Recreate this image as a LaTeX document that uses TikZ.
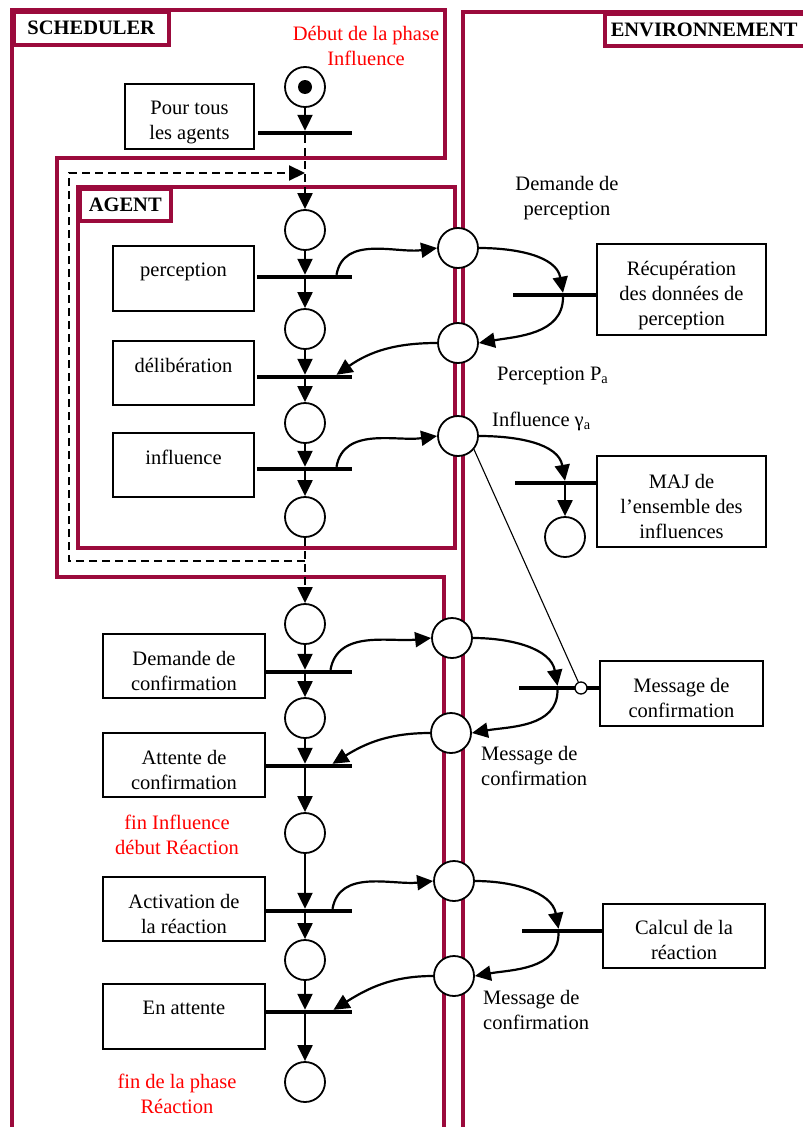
\documentclass[tikz,border=0pt]{standalone}
\usepackage{fontspec}
\setmainfont{Liberation Serif}
\usetikzlibrary{arrows.meta,calc}
\definecolor{maroon}{RGB}{155,10,60}
\definecolor{redtxt}{RGB}{255,0,0}
\newcommand{\fs}{\fontsize{20.5}{25}\selectfont}
\tikzset{myarrow/.tip={Triangle[length=16pt,width=15pt]}}
\begin{document}
\begin{tikzpicture}[x=1pt,y=-1pt,
  frame/.style={draw=maroon, line width=3.5pt},
  lbox/.style={draw=maroon, line width=3.5pt, fill=white, anchor=north west, inner sep=0, font=\fs\bfseries},
  place/.style={circle, draw, line width=1.8pt, fill=white, minimum size=40pt, inner sep=0},
  bar/.style={fill=black, minimum height=4pt, inner sep=0, draw=none, rectangle},
  box/.style={draw, line width=1.4pt, inner sep=0, rectangle},
  txt/.style={font=\fs, align=center, inner sep=0},
  redlbl/.style={txt, text=redtxt},
  arr/.style={-myarrow, line width=2.2pt},
  darr/.style={arr, dash pattern=on 8pt off 5pt},
  thinl/.style={line width=1.1pt}]
\useasboundingbox (0,0) rectangle (803,1127);
\fill[white] (0,0) rectangle (803,1127);

% frames
\draw[frame] (12,1140) -- (12,10) -- (445,10) -- (445,158) -- (57,158) -- (57,577) -- (444,577) -- (444,1140);
\draw[frame] (463,1140) -- (463,12) -- (820,12);
\draw[frame] (78,187) rectangle (455,548);
\node[lbox, minimum width=155pt, minimum height=33pt] (lsch) at (12,10) {SCHEDULER};
\node[lbox, minimum width=215pt, minimum height=32pt, text width=205pt, align=left] (lenv) at (603,12) {\hspace*{1pt}ENVIRONNEMENT};
\node[lbox, minimum width=91pt, minimum height=32pt] (lag) at (78,187) {AGENT};

% scheduler boxes
\node[box, minimum width=129pt, minimum height=65pt] (bpour) at (189.5,116.5) {};
\node[txt] (tpour) at ($(bpour.center)+(0,6)$) {Pour tous\\les agents};
\node[box, minimum width=141pt, minimum height=65pt] (bperc) at (183.5,278.5) {};
\node[txt] (tperc) at (183.5,272) {perception};
\node[box, minimum width=141pt, minimum height=64pt] (bdel) at (183.5,373) {};
\node[txt] (tdel) at (183.5,365) {délibération};
\node[box, minimum width=141pt, minimum height=64pt] (binf) at (183.5,465) {};
\node[txt] (tinf) at (183.5,457.5) {influence};
\node[box, minimum width=162pt, minimum height=64pt] (bdem) at (184,666) {};
\node[txt] (tdem) at ($(bdem.center)+(0,5)$) {Demande de\\confirmation};
\node[box, minimum width=162pt, minimum height=64pt] (batt) at (184,765) {};
\node[txt] (tatt) at ($(batt.center)+(0,5)$) {Attente de\\confirmation};
\node[box, minimum width=162pt, minimum height=64pt] (bact) at (184,909) {};
\node[txt] (tact) at ($(bact.center)+(0,5)$) {Activation de\\la réaction};
\node[box, minimum width=162pt, minimum height=65pt] (ben) at (184,1016.5) {};
\node[txt] (ten) at (184,1008) {En attente};

% environment boxes
\node[box, minimum width=169pt, minimum height=91pt] (brec) at (681.5,289.5) {};
\node[txt] (trec) at ($(brec.center)+(0,6)$) {Récupération\\des données de\\perception};
\node[box, minimum width=169pt, minimum height=91pt] (bmaj) at (681.5,501.5) {};
\node[txt] (tmaj) at ($(bmaj.center)+(0,5)$) {MAJ de\\l’ensemble des\\influences};
\node[box, minimum width=163pt, minimum height=65pt] (bmsg) at (681.5,693.5) {};
\node[txt] (tmsg) at ($(bmsg.center)+(0,4)$) {Message de\\confirmation};
\node[box, minimum width=162pt, minimum height=64pt] (bcal) at (684,936) {};
\node[txt] (tcal) at ($(bcal.center)+(0,4)$) {Calcul de la\\réaction};

% bars
\node[bar, minimum width=94pt] (t0) at (305,133) {};
\node[bar, minimum width=95pt] (t1) at (304.5,277) {};
\node[bar, minimum width=95pt] (t2) at (304.5,377) {};
\node[bar, minimum width=95pt] (t3) at (304.5,469) {};
\node[bar, minimum width=87pt] (t4) at (308.5,672) {};
\node[bar, minimum width=87pt] (t5) at (308.5,766) {};
\node[bar, minimum width=87pt] (t6) at (308.5,911) {};
\node[bar, minimum width=87pt] (t7) at (308.5,1012) {};
\node[bar, minimum width=84pt] (r1) at (555,295) {};
\node[bar, minimum width=82pt] (m1) at (556,483) {};
\node[bar, minimum width=81pt] (c1) at (559.5,688) {};
\node[bar, minimum width=81pt] (k1) at (562.5,931) {};

% places
\node[place] (s0) at (305,87) {};
\fill (s0.center) circle (7pt);
\node[place] (a1) at (305,230) {};
\node[place] (a2) at (305,329) {};
\node[place] (a3) at (305,423) {};
\node[place] (a4) at (305,517) {};
\node[place] (b1) at (305,624) {};
\node[place] (b2) at (305,718) {};
\node[place] (b3) at (305,833) {};
\node[place] (b4) at (305,960) {};
\node[place] (b5) at (305,1082) {};
\node[place] (e1) at (458,248) {};
\node[place] (e2) at (458,343) {};
\node[place] (e3) at (458,436) {};
\node[place] (mp) at (565,537) {};
\node[place] (e4) at (452,638) {};
\node[place] (e5) at (451,733) {};
\node[place] (e6) at (454,881) {};
\node[place] (e7) at (454,976) {};
\node[circle, draw, line width=1.3pt, fill=white, minimum size=12pt, inner sep=0] (mc) at (581,688) {};

% scheduler flow
\draw[arr] (s0) -- (s0 |- t0.north);
\draw[darr] (s0 |- t0.south) -- (a1);
\draw[arr] (a1) -- (a1 |- t1.north);
\draw[arr] (a1 |- t1.south) -- (a2);
\draw[arr] (a2) -- (a2 |- t2.north);
\draw[arr] (a2 |- t2.south) -- (a3);
\draw[arr] (a3) -- (a3 |- t3.north);
\draw[arr] (a3 |- t3.south) -- (a4);
\draw[darr] (a4) -- (b1);
\coordinate (loopA) at (305,561);
\coordinate (loopB) at (305,173);
\draw[darr] (loopA) -- (69,561) -- (69,173) -- (loopB);
\draw[arr] (b1) -- (b1 |- t4.north);
\draw[arr] (b1 |- t4.south) -- (b2);
\draw[arr] (b2) -- (b2 |- t5.north);
\draw[arr] (b2 |- t5.south) -- (b3);
\draw[arr] (b3) -- (b3 |- t6.north);
\draw[arr] (b3 |- t6.south) -- (b4);
\draw[arr] (b4) -- (b4 |- t7.north);
\draw[arr] (b4 |- t7.south) -- (b5);

% exchanges
\draw[arr] ([xshift=32pt]t1.north) to[out=80,in=188] (e1.west);
\draw[arr] (e1.east) to[out=0,in=100] ([xshift=8pt]r1.north);
\draw[arr] ([xshift=8pt]r1.south) to[out=-90,in=10] (e2.east);
\draw[arr] (e2.west) to[out=180,in=35] ([xshift=32pt]t2.north);
\draw[arr] ([xshift=32pt]t3.north) to[out=80,in=188] (e3.west);
\draw[arr] (e3.east) to[out=0,in=100] (mp |- m1.north);
\draw[arr] (mp |- m1.south) -- (mp);
\draw[thinl] (e3.-40) -- (mc);
\draw[arr] ([xshift=22pt]t4.north) to[out=80,in=186] (e4.west);
\draw[arr] (e4.east) to[out=0,in=100] ([xshift=-2pt]c1.north);
\draw[arr] ([xshift=-2pt]c1.south) to[out=-90,in=10] (e5.east);
\draw[arr] (e5.west) to[out=180,in=32] ([xshift=24pt]t5.north);
\draw[arr] ([xshift=24pt]t6.north) to[out=80,in=186] (e6.west);
\draw[arr] (e6.east) to[out=0,in=100] ([xshift=-4pt]k1.north);
\draw[arr] ([xshift=-4pt]k1.south) to[out=-90,in=10] (e7.east);
\draw[arr] (e7.west) to[out=180,in=32] ([xshift=25pt]t7.north);

% labels
\node[redlbl] (ldeb) at (366,46) {Début de la phase\\Influence};
\node[redlbl] (lfin1) at (177,835) {fin Influence\\début Réaction};
\node[redlbl] (lfin2) at (177,1094) {fin de la phase\\Réaction};
\node[txt] (ldp) at (567,198) {Demande de\\perception};
\node[txt, anchor=west] (lpa) at (497,376) {Perception P\textsubscript{a}};
\node[txt, anchor=west] (lga) at (492,421) {Influence γ\textsubscript{a}};
\node[txt, anchor=west, align=left] (lm1) at (481,766) {Message de\\confirmation};
\node[txt, anchor=west, align=left] (lm2) at (483,1010) {Message de\\confirmation};
\end{tikzpicture}
\end{document}
